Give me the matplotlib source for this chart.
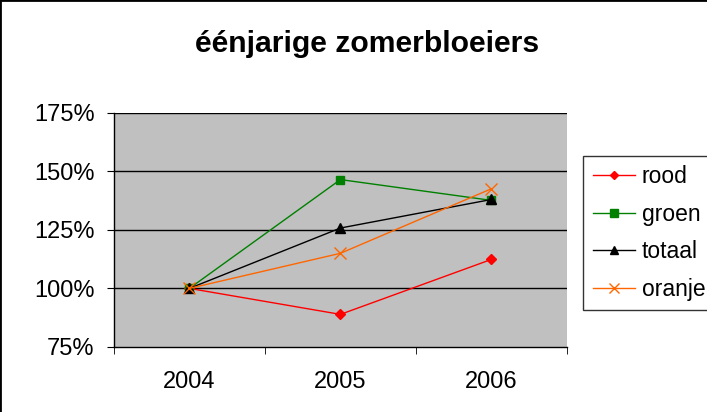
import matplotlib.pyplot as plt
import matplotlib.ticker as mtick

years = ["2004", "2005", "2006"]
rood = [100, 88.9, 112.4]
groen = [100, 146.5, 137.6]
totaal = [100, 125.8, 138.0]
oranje = [100, 115.0, 142.6]

plt.rcParams["font.family"] = ["Liberation Sans", "DejaVu Sans"]

fig = plt.figure(figsize=(7.07, 4.12), dpi=100)
ax = fig.add_axes([0.161, 0.158, 0.641, 0.568])
ax.set_facecolor("#C0C0C0")

x = list(range(len(years)))
ax.plot(x, rood, color="#FF0000", marker="D", ms=5, lw=1, label="rood")
ax.plot(x, groen, color="#008000", marker="s", ms=6, lw=1, label="groen")
ax.plot(x, totaal, color="black", marker="^", ms=7, lw=1, label="totaal")
ax.plot(x, oranje, color="#FF6600", marker="x", ms=8, mew=1, lw=1, label="oranje")

ax.set_xlim(-0.5, 2.5)
ax.set_ylim(75, 175)
ax.set_yticks([75, 100, 125, 150, 175])
ax.yaxis.set_major_formatter(mtick.FuncFormatter(lambda v, p: f"{v:.0f}%"))
ax.set_xticks(x, years)
ax.set_xticks([-0.5, 0.5, 1.5, 2.5], minor=True)
ax.tick_params(axis="x", which="major", length=0, pad=17, labelsize=17)
ax.tick_params(axis="x", which="minor", length=5, direction="out")
ax.tick_params(axis="y", length=5, direction="out", labelsize=17, pad=9)
for v in [100, 125, 150, 175]:
    ax.axhline(v, color="black", lw=1, zorder=1)
for s in ["top", "right"]:
    ax.spines[s].set_visible(False)
ax.spines["left"].set_linewidth(1)
ax.spines["bottom"].set_linewidth(1)

fig.text(0.519, 0.893, "éénjarige zomerbloeiers", ha="center", va="center",
         fontsize=21.7, fontweight="bold")

leg = fig.legend(loc="upper left", bbox_to_anchor=(0.825, 0.622), fontsize=16.5,
                 frameon=True, fancybox=False, edgecolor="black",
                 handlelength=1.83, handletextpad=0.3, borderpad=0.42,
                 labelspacing=0.63, borderaxespad=0, markerscale=0.9)
leg.get_frame().set_linewidth(1)

fig.patches.append(plt.Rectangle((0, -0.1), 1.1, 1.1, transform=fig.transFigure,
                                 fill=False, edgecolor="black", lw=2))

fig.savefig("out.png", dpi=100)
